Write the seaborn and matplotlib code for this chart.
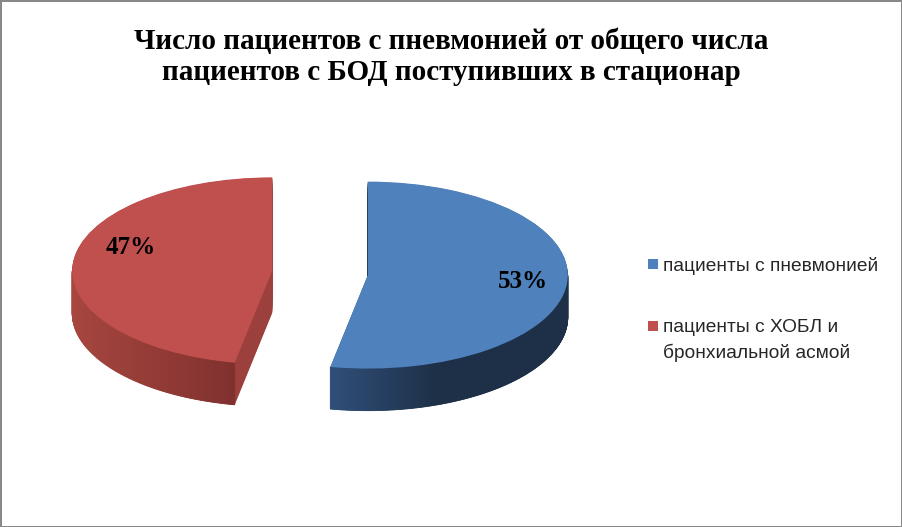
import numpy as np
import matplotlib.pyplot as plt
import matplotlib.transforms as mtransforms
from matplotlib.collections import PolyCollection
from matplotlib.colors import to_rgb
from matplotlib.patches import Rectangle
import seaborn as sns

# данные
labels = ['пациенты с пневмонией', 'пациенты с ХОБЛ и\nбронхиальной асмой']
shares = [53, 47]
title = 'Число пациентов с пневмонией от общего числа\nпациентов с БОД поступивших в стационар'

top_colors = ['#4f81bd', '#c0504d']
cut_colors = ['#1f3049', '#9b403c']
# градиент боковой стенки: (светлый край, тёмный край, доля перехода)
wall_grad = [('#30507a', '#1e3048', 0.45), ('#a8463f', '#762c2b', 1.0)]

sns.set_theme(style='white')

fig = plt.figure(figsize=(9.02, 5.27), dpi=100)
ax = fig.add_axes([0, 0, 1, 1])

explode = [0.24, 0.24]
depth = 0.45

# срезы (внутренние грани): стопка сдвинутых вниз диаграмм
for off in np.linspace(depth, 0.005, 45):
    ax.pie(shares, colors=cut_colors, startangle=90, counterclock=False,
           explode=explode, center=(0, -off), wedgeprops=dict(linewidth=0))

# верхняя поверхность
wedges, _, autotexts = ax.pie(
    shares, colors=top_colors, startangle=90, counterclock=False,
    explode=explode, center=(0, 0), wedgeprops=dict(linewidth=0),
    autopct='%.0f%%', pctdistance=0.78,
    textprops=dict(family='Liberation Serif', weight='bold', size=18, color='black'))

# внешние боковые стенки с градиентом
for w, (c1, c2, frac) in zip(wedges, wall_grad):
    cx, cy = w.center
    th = np.radians(np.linspace(w.theta1, w.theta2, 300))
    quads, cols = [], []
    x_all = cx + np.cos(th)
    xmin, xmax = x_all.min(), x_all.max()
    for a, b in zip(th[:-1], th[1:]):
        if np.sin((a + b) / 2) >= 0:
            continue
        xa, ya = cx + np.cos(a), cy + np.sin(a)
        xb, yb = cx + np.cos(b), cy + np.sin(b)
        quads.append([(xa, ya), (xb, yb), (xb, yb - depth), (xa, ya - depth)])
        t = min(1.0, ((xa + xb) / 2 - xmin) / (xmax - xmin) / frac)
        cols.append(tuple((1 - t) * np.array(to_rgb(c1)) + t * np.array(to_rgb(c2))))
    pc = PolyCollection(quads, facecolors=cols, edgecolors=cols, linewidths=0.6, zorder=1.5)
    ax.add_collection(pc)
    w.set_zorder(2)

# подпись 47% немного смещена, как в оригинале
autotexts[1].set_transform(mtransforms.offset_copy(ax.transData, fig=fig, x=14, y=17, units='dots'))

ax.set_aspect('auto')
ax.set_xlim(-1.6, 2.91)
ax.set_ylim(-2.717, 2.92)
ax.axis('off')

fig.text(0.5, 1 - 57 / 527, title, ha='center', va='center', color='black',
         family='Liberation Serif', weight='bold', size=21, linespacing=1.15)

# легенда
W, H = 902, 527
for i, (lab, col) in enumerate(zip(labels, top_colors)):
    yc = [264, 326][i]
    fig.patches.append(Rectangle((648 / W, 1 - (yc + 5) / H), 10 / W, 10 / H,
                                 transform=fig.transFigure, facecolor=col, edgecolor='none'))
    fig.text(663 / W, 1 - (yc - 7) / H, lab, ha='left', va='top', color='#262626',
             family='Liberation Sans', size=13.8, linespacing=1.55)

fig.patch.set_edgecolor('#888888')
fig.patch.set_linewidth(2)

fig.savefig('out.png', dpi=100, edgecolor=fig.get_edgecolor())
